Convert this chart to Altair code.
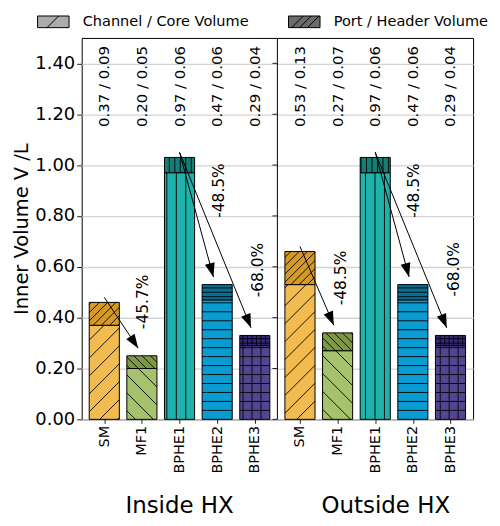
import math
import altair as alt
import pandas as pd

# ---------------- data ----------------
groups = ["Inside HX", "Outside HX"]
categories = ["SM", "MF1", "BPHE1", "BPHE2", "BPHE3"]
core_inside = [0.37, 0.20, 0.97, 0.47, 0.29]
port_inside = [0.09, 0.05, 0.06, 0.06, 0.04]
core_outside = [0.53, 0.27, 0.97, 0.47, 0.29]
port_outside = [0.13, 0.07, 0.06, 0.06, 0.04]
core_colors = ["#F2BB50", "#A7C26C", "#20B2AA", "#0A9BD1", "#534690"]
port_colors = ["#D69A24", "#7E9945", "#137F79", "#0A6F97", "#35287A"]
hatch_styles = ["/", "\\", "|", "-", "+"]
legend_names = ["Channel / Core Volume", "Port / Header Volume"]
legend_fills = ["#ababab", "#6b6b6b"]
arrow_pairs = [(0, 1), (2, 3), (2, 4)]
y_ticks = [0.0, 0.2, 0.4, 0.6, 0.8, 1.0, 1.2, 1.4]

# annotation placement (data units)
value_label_y = 1.15
arrow_start_dy = 0.02
arrow_end_dy = 0.03
arrow_end_dx = -0.1
pct_dx_inside = [0.04, 0.05, 0.09]
pct_dx_outside = [0.08, 0.03, 0.10]
pct_y_inside = [0.462, 0.90, 0.587]
pct_y_outside = [0.556, 0.90, 0.59]
group_label_x = [2.0, 7.48]
group_label_y = -0.368

# ---------------- layout ----------------
W, H = 393, 383
XMIN, XMAX = -0.6, 9.8
YMAX = 1.5
PANEL_OFFSET = 5.2
BAR_HALF = 0.4
SX = W / (XMAX - XMIN)
SY = H / YMAX
HATCH_CORE = {"/": 18.0, "\\": 18.0, "|": 9.5, "-": 9.0, "+": 9.0}
HATCH_PORT = {"/": 8.3, "\\": 8.3, "|": 5.5, "-": 4.4, "+": 4.5}
FONT = "DejaVu Sans"


def hatch_segments(x0, x1, y0, y1, kind, spacing):
    px0, px1 = (x0 - XMIN) * SX, (x1 - XMIN) * SX
    py0, py1 = y0 * SY, y1 * SY
    segs = []
    eps = 0.6
    if kind in ("|", "+"):
        k = math.floor(px0 / spacing) + 1
        while k * spacing < px1 - eps:
            px = k * spacing
            if px > px0 + eps:
                segs.append((px, py0, px, py1))
            k += 1
    if kind in ("-", "+"):
        k = math.floor(py0 / spacing) + 1
        while k * spacing < py1 - eps:
            py = k * spacing
            if py > py0 + eps:
                segs.append((px0, py, px1, py))
            k += 1
    if kind == "/":
        k = math.floor((px0 - py1) / spacing)
        while k * spacing <= px1 - py0:
            c = k * spacing
            pa, pb = max(px0, py0 + c), min(px1, py1 + c)
            if pb - pa > 0.5:
                segs.append((pa, pa - c, pb, pb - c))
            k += 1
    if kind == "\\":
        k = math.floor((px0 + py0) / spacing)
        while k * spacing <= px1 + py1:
            c = k * spacing
            pa, pb = max(px0, c - py1), min(px1, c - py0)
            if pb - pa > 0.5:
                segs.append((pa, c - pa, pb, c - pb))
            k += 1
    out = []
    for a, b, c, d in segs:
        out.append(dict(hx=a / SX + XMIN, hy=b / SY, hx2=c / SX + XMIN, hy2=d / SY))
    return out


cores = [core_inside, core_outside]
ports = [port_inside, port_outside]
pct_dx = [pct_dx_inside, pct_dx_outside]
pct_y = [pct_y_inside, pct_y_outside]

bar_rows, hatch_rows, label_rows, arrow_rows, pct_rows = [], [], [], [], []
for g, group in enumerate(groups):
    for i, cat in enumerate(categories):
        pos = g * PANEL_OFFSET + i
        c, p = cores[g][i], ports[g][i]
        x0, x1 = pos - BAR_HALF, pos + BAR_HALF
        for y0, y1, col, sp in [(0.0, c, core_colors[i], HATCH_CORE),
                                (c, c + p, port_colors[i], HATCH_PORT)]:
            bar_rows.append(dict(x0=x0, x1=x1, y0=y0, y1=y1, color=col))
            hatch_rows.extend(hatch_segments(x0, x1, y0, y1, hatch_styles[i], sp[hatch_styles[i]]))
        label_rows.append(dict(x=pos, y=value_label_y, text=f"{c:.2f} / {p:.2f}"))
    for k, (a, b) in enumerate(arrow_pairs):
        ta = cores[g][a] + ports[g][a]
        tb = cores[g][b] + ports[g][b]
        xs = g * PANEL_OFFSET + a
        ys = ta + arrow_start_dy
        xe = g * PANEL_OFFSET + b + arrow_end_dx
        ye = tb + arrow_end_dy
        dxs = (xe - xs) * SX
        dys = (ys - ye) * SY
        ang = math.degrees(math.atan2(-dxs, dys)) % 360
        arrow_rows.append(dict(xs=xs, ys=ys, xe=xe, ye=ye, angle=ang))
        pct = (tb - ta) / ta * 100
        pct_rows.append(dict(x=g * PANEL_OFFSET + b + pct_dx[g][k], y=pct_y[g][k], text=f"{pct:.1f}%"))

bars_df = pd.DataFrame(bar_rows)
hatch_df = pd.DataFrame(hatch_rows)
labels_df = pd.DataFrame(label_rows)
arrows_df = pd.DataFrame(arrow_rows)
pct_df = pd.DataFrame(pct_rows)
group_df = pd.DataFrame({"x": group_label_x, "y": [group_label_y] * 2, "text": groups})
divider_df = pd.DataFrame({"x": [XMIN + PANEL_OFFSET]})
rtick_df = pd.DataFrame({"x": [XMIN + PANEL_OFFSET - 5 / SX] * len(y_ticks),
                         "x2": [XMIN + PANEL_OFFSET] * len(y_ticks), "y": y_ticks})
legend_df = pd.DataFrame({"component": legend_names, "x": [0, 0], "y": [-5, -5]})

x_scale = alt.Scale(domain=[XMIN, XMAX], nice=False, zero=False)
y_scale = alt.Scale(domain=[0, YMAX], nice=False, zero=False)

x_ticks = [g * PANEL_OFFSET + i for g in range(len(groups)) for i in range(len(categories))]
names_js = "[" + ",".join(f"'{c}'" for c in categories) + "]"
label_expr = f"{names_js}[round(datum.value >= {PANEL_OFFSET - 0.5} ? datum.value - {PANEL_OFFSET} : datum.value)]"

x_axis = alt.Axis(
    values=x_ticks, labelExpr=label_expr, labelAngle=270, labelAlign="right",
    labelBaseline="middle", labelFontSize=14.5, labelFont=FONT, labelColor="black",
    tickSize=4, tickColor="#222", labelPadding=2, grid=False, domain=False, title=None)
y_axis = alt.Axis(
    values=y_ticks, format=".2f", title="Inner Volume V /L", grid=True,
    gridColor="#d3d3d3", gridWidth=1.3, domain=False, tickSize=5, tickColor="#222",
    labelFontSize=18, labelFont=FONT, labelColor="black", labelPadding=2,
    titleFontSize=19.5, titleFont=FONT, titleFontWeight="normal", titleColor="black",
    titleAngle=270, titleX=-60, titleY=H / 2, titleAlign="center", titleBaseline="middle")


def X(f):
    return alt.X(f, type="quantitative", scale=x_scale, axis=x_axis)


def Y(f):
    return alt.Y(f, type="quantitative", scale=y_scale, axis=y_axis)


bars = alt.Chart(bars_df).mark_rect(stroke="black", strokeWidth=1).encode(
    x=X("x0"), x2="x1:Q", y=Y("y0"), y2="y1:Q",
    fill=alt.Fill("color:N", scale=None),
)

hatch = alt.Chart(hatch_df).mark_rule(color="black", strokeWidth=0.9).encode(
    x=X("hx"), x2="hx2:Q", y=Y("hy"), y2="hy2:Q")

divider = alt.Chart(divider_df).mark_rule(color="black", strokeWidth=1).encode(x=X("x"))

rticks = alt.Chart(rtick_df).mark_rule(color="#222", strokeWidth=1).encode(
    x=X("x"), x2="x2:Q", y=Y("y"))

arrow_lines = alt.Chart(arrows_df).mark_rule(color="black", strokeWidth=1).encode(
    x=X("xs"), y=Y("ys"), x2="xe:Q", y2="ye:Q")

arrow_heads = alt.Chart(arrows_df).mark_point(
    shape="M0,0L-0.36,-1L0.36,-1Z", filled=True, color="black", size=784, opacity=1
).encode(x=X("xe"), y=Y("ye"), angle=alt.Angle("angle:Q", scale=None))

value_labels = alt.Chart(labels_df).mark_text(
    angle=270, align="left", baseline="middle", fontSize=15, font=FONT, color="black"
).encode(x=X("x"), y=Y("y"), text="text:N")

pct_labels = alt.Chart(pct_df).mark_text(
    angle=270, align="center", baseline="middle", fontSize=15.5, font=FONT, color="black"
).encode(x=X("x"), y=Y("y"), text="text:N")

group_labels = alt.Chart(group_df).mark_text(
    align="center", baseline="alphabetic", fontSize=23, font=FONT, color="black"
).encode(x=X("x"), y=Y("y"), text="text:N")

channel_path = "M-1,-0.37L1,-0.37L1,0.37L-1,0.37Z M-0.4,0.37L0.34,-0.37"
port_path = ("M-1,-0.37L1,-0.37L1,0.37L-1,0.37Z M-0.8,0.37L-0.06,-0.37 "
             "M-0.3,0.37L0.44,-0.37 M0.2,0.37L0.94,-0.37")
legend_cfg = dict(orient="none", legendX=-45, legendY=-33, direction="horizontal", title=None,
                  symbolSize=1000, symbolStrokeColor="black", symbolStrokeWidth=1,
                  symbolOpacity=1, labelFontSize=14.6, labelFont=FONT, labelColor="black",
                  labelOffset=13, labelLimit=400, columnPadding=37, padding=0)
legend_layer = alt.Chart(legend_df).mark_point(filled=True, clip=True).encode(
    x=X("x"), y=Y("y"),
    fill=alt.Fill("component:N", scale=alt.Scale(domain=legend_names, range=legend_fills),
                  legend=alt.Legend(**legend_cfg)),
    shape=alt.Shape("component:N", scale=alt.Scale(domain=legend_names, range=[channel_path, port_path]),
                    legend=alt.Legend(**legend_cfg)),
)

chart = alt.layer(
    bars, hatch, divider, rticks, arrow_lines, arrow_heads,
    value_labels, pct_labels, group_labels, legend_layer
).properties(
    width=W, height=H,
    padding={"left": 74, "top": 29, "right": 19, "bottom": 98},
    autosize=alt.AutoSizeParams(type="none"),
).configure(font=FONT).configure_view(stroke="black", strokeWidth=1)

chart.save("out.html", embed_options={"renderer": "svg", "actions": False})
